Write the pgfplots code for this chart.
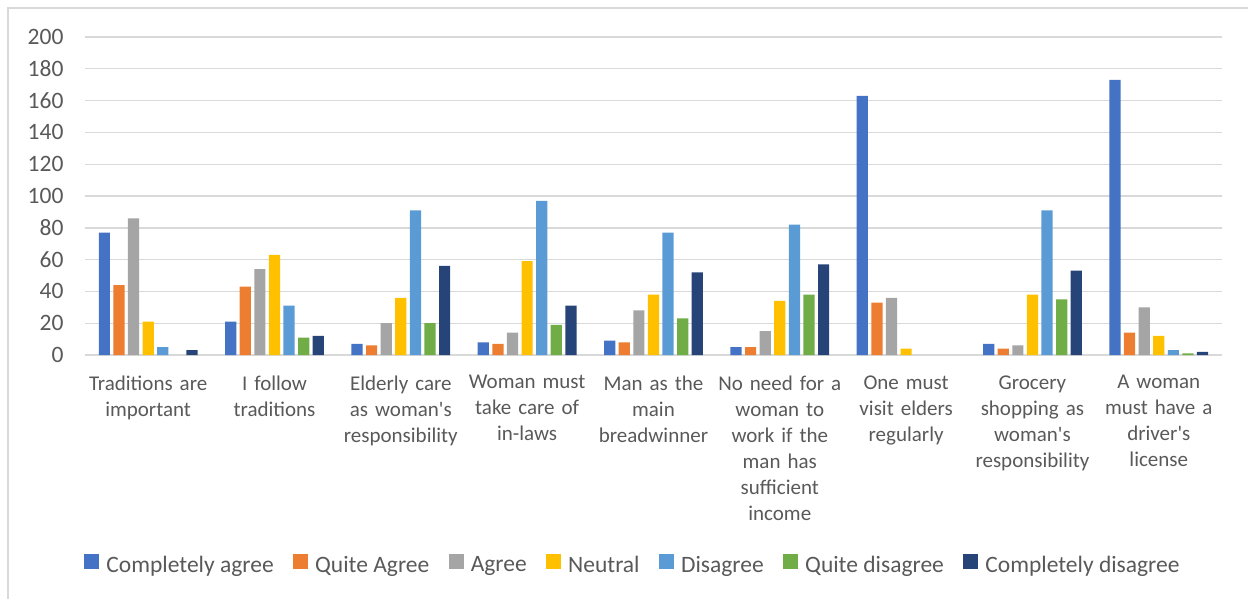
\documentclass[border=0pt]{standalone}
\usepackage{fontspec}
\defaultfontfeatures[\rmfamily]{}
\setmainfont{Carlito}
\usepackage{pgfplots}
\usepackage{pgfplotstable}
\pgfplotsset{compat=1.18}

\definecolor{cAgreeFull}{HTML}{4472C4}
\definecolor{cAgreeQuite}{HTML}{ED7D31}
\definecolor{cAgree}{HTML}{A5A5A5}
\definecolor{cNeutral}{HTML}{FFC000}
\definecolor{cDisagree}{HTML}{5B9BD5}
\definecolor{cDisQuite}{HTML}{70AD47}
\definecolor{cDisFull}{HTML}{264478}
\definecolor{txtgray}{HTML}{595959}
\definecolor{gridgray}{HTML}{D9D9D9}

% Answers per statement (number of respondents)
\pgfplotstableread{
x ca qa ag ne di qd cd
0 77  44 86 21 5  0  3
1 21  43 54 63 31 11 12
2 7   6  20 36 91 20 56
3 8   7  14 59 97 19 31
4 9   8  28 38 77 23 52
5 5   5  15 34 82 38 57
6 163 33 36 4  0  0  0
7 7   4  6  38 91 35 53
8 173 14 30 12 3  1  2
}\answers

\newcommand{\catfont}{\fontsize{21bp}{26bp}\selectfont}
\newcommand{\bigfont}{\fontsize{23.5bp}{28bp}\selectfont}

\begin{document}
\begin{tikzpicture}
\begin{axis}[
  scale only axis,
  width=1137bp, height=318bp,
  xmin=-0.5, xmax=8.5,
  ymin=0, ymax=200,
  ybar=3.4bp, bar width=11.2bp,
  ytick={0,20,...,200},
  xtick={0,...,8},
  xticklabels={
    {Traditions are\\important},
    {I follow\\traditions},
    {Elderly care\\as woman's\\responsibility},
    {Woman must\\take care of\\in-laws},
    {Man as the\\main\\breadwinner},
    {No need for a\\woman to\\work if the\\man has\\sufficient\\income},
    {One must\\visit elders\\regularly},
    {Grocery\\shopping as\\woman's\\responsibility},
    {A woman\\must have a\\driver's\\license}},
  axis line style={draw=none},
  tick style={draw=none},
  major tick length=0pt,
  ymajorgrids,
  grid style={gridgray, line width=1.4bp},
  /pgf/number format/assume math mode=true,
  tick label style={text=txtgray},
  yticklabel style={font=\bigfont, xshift=-18bp},
  xticklabel style={font=\catfont, text width=135bp, align=center, anchor=north, yshift=-17bp},
  legend columns=7,
  legend cell align=left,
  legend style={draw=none, fill=none, font=\bigfont, text=txtgray,
    at={(0.482,-0.66)}, anchor=center,
    /tikz/every odd column/.append style={column sep=5bp},
    /tikz/every even column/.append style={column sep=17.5bp}},
  legend image code/.code={\fill[#1] (0bp,-4bp) rectangle (15bp,11bp);},
  every axis plot/.append style={draw=none},
  % empty answers are left out instead of drawn as flat bars
  y filter/.expression={y==0 ? nan : y},
]
\addplot[fill=cAgreeFull]  table[x=x, y=ca] {\answers};
\addplot[fill=cAgreeQuite] table[x=x, y=qa] {\answers};
\addplot[fill=cAgree]      table[x=x, y=ag] {\answers};
\addplot[fill=cNeutral]    table[x=x, y=ne] {\answers};
\addplot[fill=cDisagree]   table[x=x, y=di] {\answers};
\addplot[fill=cDisQuite]   table[x=x, y=qd] {\answers};
\addplot[fill=cDisFull]    table[x=x, y=cd] {\answers};
\legend{Completely agree, Quite Agree, Agree, Neutral, Disagree, Quite disagree, Completely disagree}
\end{axis}
% chart area frame
\draw[gridgray, line width=1.5bp] (-77bp,-250bp) -- (-77bp,347bp) -- (1170bp,347bp);
\pgfresetboundingbox
\useasboundingbox (-85bp,-244bp) rectangle (1163bp,355bp);
\end{tikzpicture}
\end{document}
